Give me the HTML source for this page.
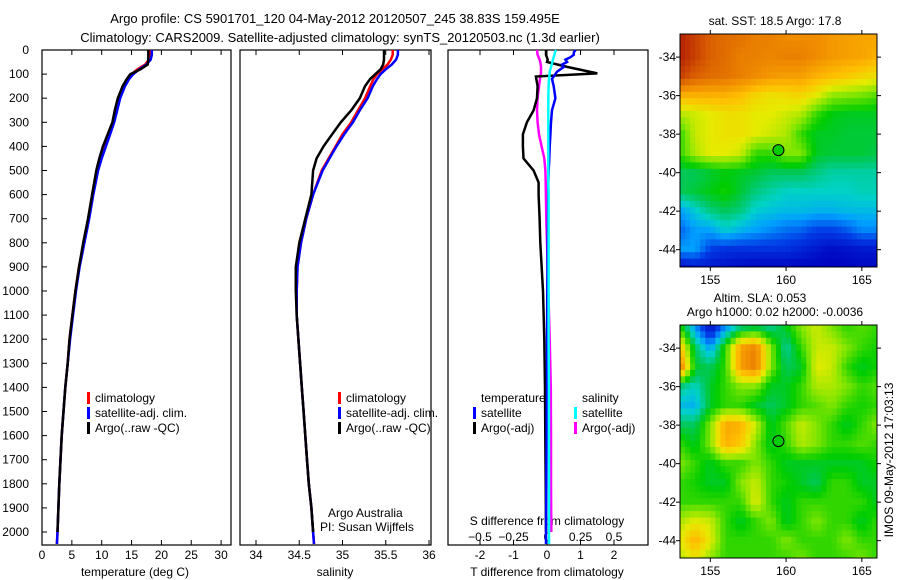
<!DOCTYPE html>
<html><head><meta charset="utf-8"><style>
body{margin:0;background:#fff}
svg{display:block;font-family:"Liberation Sans",sans-serif}
</style></head><body>
<svg id="fig" width="900" height="580" viewBox="0 0 900 580" xmlns="http://www.w3.org/2000/svg">
<defs>
<clipPath id="clipA"><rect x="680" y="34" width="197" height="233"/></clipPath>
<clipPath id="clipB"><rect x="680" y="325" width="197" height="233"/></clipPath>
</defs>
<g font-size="13" text-anchor="middle" fill="#000">
<text x="335" y="23">Argo profile: CS 5901701_120 04-May-2012 20120507_245 38.83S 159.495E</text>
<text x="340" y="42">Climatology: CARS2009. Satellite-adjusted climatology: synTS_20120503.nc (1.3d earlier)</text>
</g>
<g id="layer"></g>
</svg>
<script>
// ---- profile data ----
const depthsT = [0,20,40,60,80,100,120,150,200,250,300,350,400,450,500,600,700,800,900,1000,1100,1200,1300,1400,1500,1600,1700,1800,1900,2000,2050];
const tempClim = [18.0,18.0,17.9,17.3,16.0,15.0,14.4,13.7,12.9,12.4,12.0,11.3,10.6,9.9,9.3,8.5,7.8,7.0,6.2,5.6,5.1,4.6,4.3,3.9,3.6,3.3,3.1,2.9,2.75,2.6,2.5];
const tempSat = [18.4,18.4,18.2,17.5,16.3,15.3,14.6,13.9,13.1,12.6,12.1,11.4,10.7,10.0,9.4,8.6,7.9,7.1,6.3,5.7,5.2,4.7,4.3,3.9,3.6,3.3,3.1,2.9,2.75,2.6,2.5];
const depthsArgo = [0,20,40,60,80,100,120,150,200,250,300,350,400,450,500,600,700,800,900,1000,1100,1200,1300,1400,1500,1600,1700,1800,1900,2000];
const tempArgo = [17.8,17.8,17.8,17.7,16.5,14.8,14.2,13.5,12.7,12.2,11.8,11.0,10.2,9.6,9.1,8.4,7.7,6.9,6.2,5.6,5.1,4.6,4.3,3.9,3.6,3.3,3.1,2.9,2.75,2.6];
const salClim = [35.58,35.58,35.56,35.52,35.46,35.4,35.36,35.32,35.26,35.18,35.1,35.0,34.92,34.84,34.76,34.66,34.58,34.52,34.48,34.47,34.47,34.49,34.51,34.53,34.55,34.57,34.59,34.61,34.64,34.66,34.67];
const salSat = [35.64,35.64,35.62,35.57,35.5,35.44,35.4,35.35,35.29,35.2,35.12,35.02,34.93,34.85,34.77,34.66,34.58,34.52,34.48,34.47,34.47,34.49,34.51,34.53,34.55,34.57,34.59,34.61,34.64,34.66,34.67];
const salArgo = [35.48,35.48,35.48,35.47,35.44,35.38,35.32,35.26,35.2,35.1,34.98,34.88,34.78,34.7,34.66,34.64,34.57,34.5,34.46,34.46,34.47,34.49,34.51,34.53,34.55,34.57,34.59,34.61,34.64,34.66];
// ---- difference data ----
const depthsDiff = [0,10,20,30,40,50,60,70,80,90,100,120,150,200,250,300,350,400,450,500,550,600,700,800,1000,1200,1400,1600,1800,2000,2050];
const tDiffSat = [0.85,0.8,0.8,0.7,0.55,0.6,0.45,0.5,0.4,0.3,0.25,0.15,0.2,0.25,0.15,0.12,0.1,0.08,0.07,0.05,0.04,0.04,0.03,0.02,0.01,0,0,-0.01,-0.02,-0.03,-0.03];
const depthsDiffArgo = [0,20,40,50,70,97,110,150,200,250,300,350,400,450,500,550,600,700,800,1000,1200,1400,1600,1800,2000];
const tDiffArgo = [-0.03,-0.03,0.02,0.0,0.6,1.5,-0.33,-0.28,-0.3,-0.4,-0.6,-0.72,-0.72,-0.7,-0.4,-0.25,-0.25,-0.22,-0.2,-0.12,-0.08,-0.06,-0.05,-0.04,-0.03];
const depthsSDiffArgo = [0,20,40,50,70,97,110,150,200,250,300,350,400,450,500,550,600,700,800,1000,1200,1400,1600,1800,2000];
const sDiffSat = [0.067,0.06,0.055,0.05,0.045,0.04,0.035,0.03,0.025,0.02,0.02,0.015,0.012,0.01,0.01,0.01,0.01,0.01,0.01,0.01,0.01,0.012,0.012,0.012,0.012,0.012,0.014,0.014,0.015,0.015,0.015];
const sDiffArgo = [-0.075,-0.07,-0.055,-0.05,-0.045,-0.045,-0.05,-0.06,-0.07,-0.075,-0.07,-0.06,-0.04,-0.02,-0.012,-0.01,-0.008,-0.005,0.0,0.01,0.02,0.028,0.03,0.03,0.032];
const depthTicks = [0,100,200,300,400,500,600,700,800,900,1000,1100,1200,1300,1400,1500,1600,1700,1800,1900,2000];
const tempTicks = [0,5,10,15,20,25,30];
const salTicks = [34,34.5,35,35.5,36];
const tdTicks = [-2,-1,0,1,2];
const sdTicks = [-0.5,-0.25,0,0.25,0.5];
// ---- map data (lat rows -33..-45, lon cols 153..166), normalised colour value ----
const sstGrid = [
[0.95,0.9,0.85,0.83,0.82,0.8,0.8,0.78,0.78,0.78,0.76,0.75,0.74,0.74],
[0.95,0.9,0.85,0.83,0.8,0.8,0.79,0.8,0.8,0.78,0.76,0.75,0.74,0.72],
[0.9,0.85,0.83,0.82,0.8,0.78,0.76,0.75,0.75,0.72,0.7,0.68,0.66,0.64],
[0.72,0.72,0.72,0.72,0.7,0.66,0.64,0.65,0.66,0.62,0.56,0.55,0.54,0.52],
[0.58,0.6,0.62,0.64,0.64,0.62,0.62,0.6,0.58,0.5,0.46,0.45,0.45,0.45],
[0.5,0.6,0.62,0.64,0.64,0.62,0.6,0.58,0.5,0.45,0.45,0.44,0.44,0.44],
[0.5,0.58,0.62,0.62,0.6,0.5,0.5,0.55,0.55,0.45,0.44,0.44,0.44,0.43],
[0.42,0.42,0.44,0.46,0.45,0.44,0.42,0.42,0.42,0.4,0.38,0.38,0.38,0.38],
[0.42,0.44,0.46,0.48,0.44,0.4,0.38,0.36,0.36,0.36,0.36,0.36,0.37,0.37],
[0.3,0.35,0.4,0.42,0.4,0.35,0.34,0.33,0.33,0.32,0.32,0.33,0.33,0.33],
[0.25,0.3,0.3,0.35,0.32,0.3,0.28,0.26,0.25,0.22,0.22,0.24,0.28,0.28],
[0.3,0.3,0.22,0.2,0.2,0.2,0.2,0.2,0.18,0.16,0.14,0.15,0.16,0.16],
[0.12,0.15,0.15,0.14,0.13,0.12,0.12,0.12,0.12,0.12,0.12,0.12,0.13,0.13]];
const slaGrid = [
[.5,.3,.15,.3,.42,.45,.4,.45,.55,.6,.55,.5,.52,.5],
[.7,.42,.3,.5,.75,.8,.55,.38,.5,.6,.6,.55,.5,.48],
[.82,.45,.42,.5,.75,.8,.55,.42,.45,.62,.6,.5,.45,.48],
[.4,.36,.45,.5,.55,.55,.45,.45,.5,.58,.58,.55,.5,.52],
[.33,.32,.45,.5,.5,.45,.42,.45,.5,.52,.55,.5,.48,.5],
[.42,.42,.55,.74,.72,.6,.45,.52,.6,.55,.5,.45,.5,.55],
[.5,.45,.55,.72,.68,.55,.45,.5,.58,.55,.5,.5,.52,.5],
[.55,.5,.45,.5,.5,.55,.5,.45,.45,.45,.45,.45,.45,.48],
[.5,.48,.45,.45,.55,.6,.5,.48,.45,.42,.5,.5,.45,.45],
[.5,.5,.5,.5,.5,.62,.5,.45,.5,.5,.5,.5,.5,.45],
[.58,.62,.6,.5,.45,.5,.55,.45,.5,.55,.5,.5,.45,.5],
[.62,.72,.62,.5,.5,.5,.5,.55,.5,.5,.5,.55,.5,.5],
[.58,.62,.55,.5,.5,.5,.5,.5,.55,.5,.5,.5,.55,.5]];
const lonTicks = [155,160,165];
const latTicks = [-34,-36,-38,-40,-42,-44];
const argoLon = 159.495, argoLat = -38.83;

const NS='http://www.w3.org/2000/svg';
const L=document.getElementById('layer');
function mk(tag,attrs,parent){const e=document.createElementNS(NS,tag);for(const k in attrs)e.setAttribute(k,attrs[k]);(parent||L).appendChild(e);return e;}
function txt(s,x,y,anchor,parent,size){const t=mk('text',{x:x,y:y,'text-anchor':anchor||'middle','font-size':size||12},parent);t.textContent=s;return t;}
const yD=d=>50+d*0.241;
const xT=v=>42+v*5.97;
const xS=v=>256+(v-34)*86.5;
const xTD=v=>547+v*33.5;
const xSD=v=>547+v*134;

function line(xs,ys,xf,color,name,w){
  const pts=xs.map((v,i)=>xf(v).toFixed(1)+','+yD(ys[i]).toFixed(1)).join(' ');
  const p=mk('polyline',{points:pts,fill:'none',stroke:color,'stroke-width':w||2.5});
  
  
}
function frame(x0,x1,name){
  const r=mk('rect',{x:x0,y:50,width:x1-x0,height:495,fill:'none',stroke:'#000','stroke-width':1.2});
  
  
}
const ya=mk('g',{});


depthTicks.forEach(d=>{txt(String(d),29,yD(d)+4,'end',ya);mk('line',{x1:42,x2:47,y1:yD(d),y2:yD(d),stroke:'#000'},ya);});

frame(42,231,'temperature-panel');
const xa1=mk('g',{});


tempTicks.forEach(v=>{txt(String(v),xT(v),559,'middle',xa1);mk('line',{x1:xT(v),x2:xT(v),y1:50,y2:55,stroke:'#000'},xa1);mk('line',{x1:xT(v),x2:xT(v),y1:545,y2:540,stroke:'#000'},xa1);});
txt('temperature (deg C)',135,576,'middle',xa1);
line(tempClim,depthsT,xT,'#f00','temp-climatology-line');
line(tempSat,depthsT,xT,'#00f','temp-satellite-line');
line(tempArgo,depthsArgo,xT,'#000','temp-argo-line');

frame(240,431,'salinity-panel');
const xa2=mk('g',{});


salTicks.forEach(v=>{txt(String(v),xS(v),559,'middle',xa2);mk('line',{x1:xS(v),x2:xS(v),y1:50,y2:55,stroke:'#000'},xa2);mk('line',{x1:xS(v),x2:xS(v),y1:545,y2:540,stroke:'#000'},xa2);});
txt('salinity',335,576,'middle',xa2);
line(salClim,depthsT,xS,'#f00','sal-climatology-line');
line(salSat,depthsT,xS,'#00f','sal-satellite-line');
line(salArgo,depthsArgo,xS,'#000','sal-argo-line');

frame(448,648,'difference-panel');
const xa3=mk('g',{});


tdTicks.forEach(v=>{txt(String(v),xTD(v),559,'middle',xa3);mk('line',{x1:xTD(v),x2:xTD(v),y1:50,y2:55,stroke:'#000'},xa3);mk('line',{x1:xTD(v),x2:xTD(v),y1:545,y2:540,stroke:'#000'},xa3);});
txt('T difference from climatology',547,576,'middle',xa3);
const xa4=mk('g',{});


sdTicks.forEach(v=>{txt(v===0?'0':String(v).replace('-','\u2212'),xSD(v),541,'middle',xa4);});
txt('S difference from climatology',547,525,'middle',xa4);
line(sDiffArgo,depthsSDiffArgo,xSD,'#f0f','s-diff-argo-line');
line(tDiffArgo,depthsDiffArgo,xTD,'#000','t-diff-argo-line');
line(tDiffSat,depthsDiff,xTD,'#00f','t-diff-satellite-line');
line(sDiffSat,depthsDiff,xSD,'#0ff','s-diff-satellite-line');

function legend(x,y,items,name){
  const g=mk('g',{});
  
  
  items.forEach((it,i)=>{
    if(it[1])mk('rect',{x:x,y:y+i*15-10,width:3,height:12,fill:it[1]},g);
    txt(it[0],x+(it[1]?8:0),y+i*15,'start',g);
  });
}
legend(87,402,[['climatology','#f00'],['satellite-adj. clim.','#00f'],['Argo(..raw -QC)','#000']],'temperature-legend');
legend(338,402,[['climatology','#f00'],['satellite-adj. clim.','#00f'],['Argo(..raw -QC)','#000']],'salinity-legend');
legend(481,402,[['temperature',null]],'diff-legend-temp-title');
legend(473,417,[['satellite','#00f'],['Argo(-adj)','#000']],'diff-legend-temp');
legend(582,402,[['salinity',null]],'diff-legend-sal-title');
legend(574,417,[['satellite','#0ff'],['Argo(-adj)','#f0f']],'diff-legend-sal');
txt('Argo Australia',328,517,'start');
txt('PI: Susan Wijffels',320,531,'start');

const stops=[[0,[0,0,120]],[0.12,[0,0,190]],[0.22,[0,60,230]],[0.3,[0,160,255]],[0.36,[0,210,200]],[0.42,[0,200,90]],[0.47,[0,205,0]],[0.55,[130,230,0]],[0.62,[230,235,0]],[0.7,[255,190,0]],[0.78,[240,140,0]],[0.86,[215,90,0]],[0.94,[185,40,0]],[1,[150,0,0]]];
function cmap(v){v=Math.max(0,Math.min(1,v));for(let i=1;i<stops.length;i++){if(v<=stops[i][0]){const a=stops[i-1],b=stops[i],t=(v-a[0])/(b[0]-a[0]);return 'rgb('+a[1].map((c,k)=>Math.round(c+(b[1][k]-c)*t)).join(',')+')';}}return 'rgb(150,0,0)';}
function sample(g,lon,lat){const c=lon-153,r=-33-lat;const c0=Math.max(0,Math.min(12,Math.floor(c))),r0=Math.max(0,Math.min(11,Math.floor(r)));const fc=Math.min(1,Math.max(0,c-c0)),fr=Math.min(1,Math.max(0,r-r0));return g[r0][c0]*(1-fc)*(1-fr)+g[r0][c0+1]*fc*(1-fr)+g[r0+1][c0]*(1-fc)*fr+g[r0+1][c0+1]*fc*fr;}
function map(grid,top,name,clip){
  const x0=680,x1=877,bottom=top+233;
  const lonX=lon=>x0+(lon-153)*(x1-x0)/13;
  const latY=lat=>top+(-32.8-lat)*(bottom-top)/12.1;
  const g=mk('g',{});
  
  
  const cells=mk('g',{'clip-path':'url(#'+clip+')'},g);
  const step=1/3;
  for(let lat=-32.8;lat>-44.9-1e-6;lat-=step){for(let lon=153;lon<166-1e-6;lon+=step){
    const v=sample(grid,lon+step/2,lat-step/2);
    mk('rect',{x:lonX(lon).toFixed(1),y:latY(lat).toFixed(1),width:(lonX(lon+step)-lonX(lon)+0.6).toFixed(1),height:(latY(lat-step)-latY(lat)+0.6).toFixed(1),fill:cmap(v)},cells);
  }}
  mk('rect',{x:x0,y:top,width:x1-x0,height:bottom-top,fill:'none',stroke:'#000'},g);
  lonTicks.forEach(l=>{txt(String(l),lonX(l),bottom+17,'middle',g);mk('line',{x1:lonX(l),x2:lonX(l),y1:top,y2:top-4,stroke:'#000'},g);mk('line',{x1:lonX(l),x2:lonX(l),y1:bottom,y2:bottom+4,stroke:'#000'},g);});
  latTicks.forEach(l=>{txt(String(l),676,latY(l)+4,'end',g);mk('line',{x1:x0,x2:x0-4,y1:latY(l),y2:latY(l),stroke:'#000'},g);mk('line',{x1:x1,x2:x1+4,y1:latY(l),y2:latY(l),stroke:'#000'},g);});
  const c=mk('circle',{cx:lonX(argoLon),cy:latY(argoLat),r:5.5,fill:'#0c0',stroke:'#000','stroke-width':1},g);
  
  
}
map(sstGrid,34,'sst-map','clipA');
map(slaGrid,325,'sla-map','clipB');
txt('sat. SST: 18.5 Argo: 17.8',775,25);
txt('Altim. SLA: 0.053',760,302);
txt('Argo h1000: 0.02 h2000: -0.0036',775,316);
const v=txt('IMOS 09-May-2012 17:03:13',0,0,'middle');
v.setAttribute('transform','translate(893,460) rotate(-90)');


</script>
</body></html>
